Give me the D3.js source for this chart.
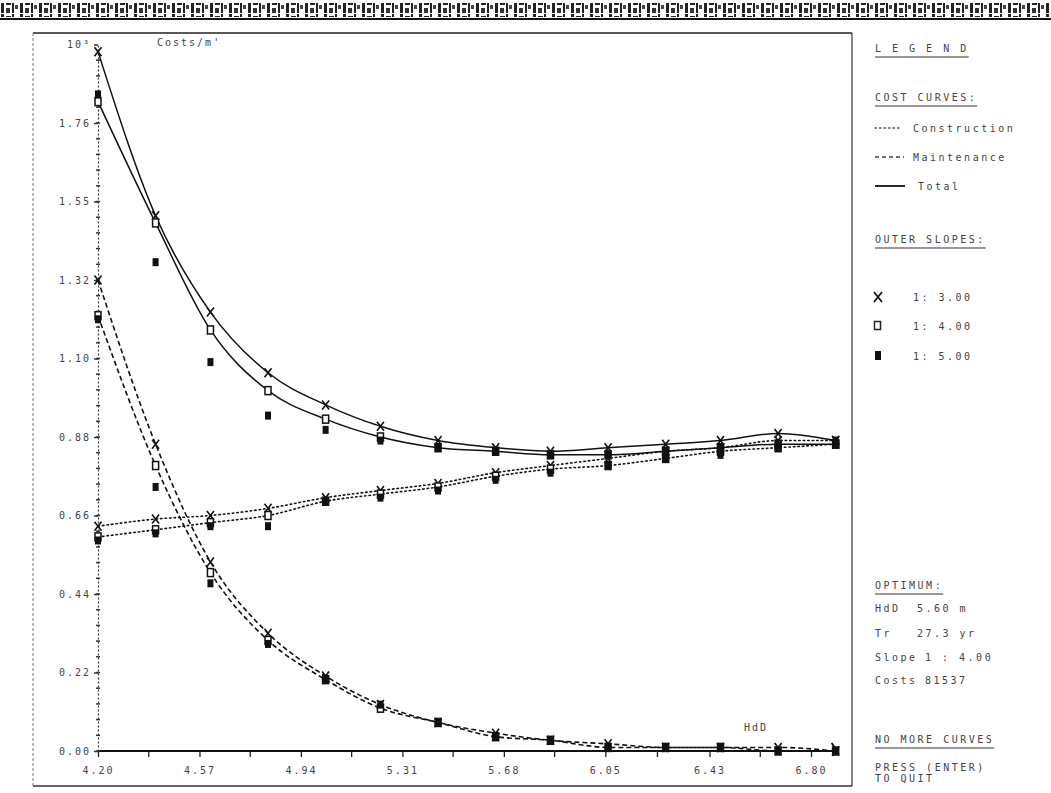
<!DOCTYPE html>
<html>
<head>
<meta charset="utf-8">
<script src="https://cdn.jsdelivr.net/npm/d3@7"></script>
<style>
  body { margin: 0; background: #fff; }
  text { font-family: "DejaVu Sans Mono", monospace; fill: #444; }
</style>
</head>
<body>
<div class="chart"></div>
<script>
// cost curves vs HdD, values in 10^3 per m
var hdd = [4.20, 4.41, 4.61, 4.82, 5.03, 5.23, 5.44, 5.65, 5.85, 6.06, 6.27, 6.47, 6.68, 6.89];

// slope 1:3 (X)
var total3 = [1.96, 1.50, 1.23, 1.06, 0.97, 0.91, 0.87, 0.85, 0.84, 0.85, 0.86, 0.87, 0.89, 0.87];
var maint3 = [1.32, 0.86, 0.53, 0.33, 0.21, 0.13, 0.08, 0.05, 0.03, 0.02, 0.01, 0.01, 0.01, 0.00];
var constr3 = [0.63, 0.65, 0.66, 0.68, 0.71, 0.73, 0.75, 0.78, 0.80, 0.82, 0.84, 0.85, 0.87, 0.87];
// slope 1:4 (open square)
var total4 = [1.82, 1.48, 1.18, 1.01, 0.93, 0.88, 0.85, 0.84, 0.83, 0.83, 0.84, 0.85, 0.86, 0.86];
var maint4 = [1.22, 0.80, 0.50, 0.31, 0.20, 0.12, 0.08, 0.04, 0.03, 0.01, 0.01, 0.01, 0.00, 0.00];
var constr4 = [0.60, 0.62, 0.64, 0.66, 0.70, 0.72, 0.74, 0.77, 0.79, 0.80, 0.82, 0.84, 0.85, 0.86];
// slope 1:5 (filled square) - markers only
var total5 = [1.84, 1.37, 1.09, 0.94, 0.90, 0.87, 0.85, 0.84, 0.83, 0.83, 0.84, 0.85, 0.86, 0.87];
var maint5 = [1.21, 0.74, 0.47, 0.30, 0.20, 0.13, 0.08, 0.04, 0.03, 0.01, 0.01, 0.01, 0.00, 0.00];
var constr5 = [0.59, 0.61, 0.63, 0.63, 0.70, 0.71, 0.73, 0.76, 0.78, 0.80, 0.82, 0.83, 0.85, 0.86];

var xTicks = [4.20, 4.57, 4.94, 5.31, 5.68, 6.05, 6.43, 6.80];
var xLabels = ["4.20", "4.57", "4.94", "5.31", "5.68", "6.05", "6.43", "6.80"];
var yTicks = [0, 0.22, 0.44, 0.66, 0.88, 1.10, 1.32, 1.54, 1.76, 1.98];
var yLabels = ["0.00", "0.22", "0.44", "0.66", "0.88", "1.10", "1.32", "1.55", "1.76", "10\u00b3"];

var svgWidth = 1051;
var svgHeight = 793;

var svg = d3.select(".chart")
  .append("svg")
  .attr("width", svgWidth)
  .attr("height", svgHeight);

// top banner (garbled print header)
var defs = svg.append("defs");
var pat = defs.append("pattern")
  .attr("id", "band")
  .attr("patternUnits", "userSpaceOnUse")
  .attr("width", 19)
  .attr("height", 14);
pat.append("rect").attr("x", 1).attr("y", 0).attr("width", 3).attr("height", 13).attr("fill", "#222");
pat.append("rect").attr("x", 6).attr("y", 2).attr("width", 5).attr("height", 3).attr("fill", "#222");
pat.append("rect").attr("x", 6).attr("y", 8).attr("width", 4).attr("height", 5).attr("fill", "#333");
pat.append("rect").attr("x", 12).attr("y", 0).attr("width", 2).attr("height", 13).attr("fill", "#222");
pat.append("rect").attr("x", 15).attr("y", 5).attr("width", 3).attr("height", 4).attr("fill", "#444");
svg.append("rect")
  .attr("x", 0).attr("y", 3)
  .attr("width", svgWidth).attr("height", 14)
  .attr("fill", "url(#band)");
svg.append("line")
  .attr("x1", 0).attr("x2", svgWidth)
  .attr("y1", 19).attr("y2", 19)
  .attr("stroke", "#111").attr("stroke-width", 2);

// frame of plotting area
svg.append("line").attr("x1", 33).attr("x2", 852).attr("y1", 33).attr("y2", 33)
  .attr("stroke", "#222").attr("stroke-width", 1.5);
svg.append("line").attr("x1", 33).attr("x2", 33).attr("y1", 33).attr("y2", 786)
  .attr("stroke", "#777").attr("stroke-width", 1).attr("stroke-dasharray", "3,2");
svg.append("line").attr("x1", 33).attr("x2", 852).attr("y1", 786).attr("y2", 786)
  .attr("stroke", "#333").attr("stroke-width", 1.5);
svg.append("line").attr("x1", 852).attr("x2", 852).attr("y1", 33).attr("y2", 786)
  .attr("stroke", "#333").attr("stroke-width", 1.2);

var x = d3.scaleLinear().domain([4.20, 6.80]).range([98, 811]);
var y = d3.scaleLinear().domain([0, 1.98]).range([751, 44.5]);

// x axis
var xAxis = d3.axisBottom(x)
  .tickValues(xTicks)
  .tickFormat(function(d, i) { return xLabels[i]; })
  .tickSize(6)
  .tickSizeOuter(0);
var gx = svg.append("g")
  .attr("transform", "translate(0,751)")
  .call(xAxis);
gx.select(".domain").remove();
gx.selectAll("line").attr("stroke", "#222").attr("stroke-width", 1.3);
gx.selectAll("text")
  .attr("dy", "1.4em")
  .attr("font-size", "10px")
  .attr("letter-spacing", "2px")
  .style("font-family", "DejaVu Sans Mono, monospace")
  .attr("fill", "#444");
svg.append("line")
  .attr("x1", x(4.20)).attr("x2", x(hdd[hdd.length - 1]))
  .attr("y1", 751).attr("y2", 751)
  .attr("stroke", "#111").attr("stroke-width", 2.2);
// minor x ticks halfway between labelled ones
var xMinor = xTicks.slice(1).map(function(d, i) { return (d + xTicks[i]) / 2; });
svg.selectAll(".xminor").data(xMinor).enter().append("line")
  .attr("x1", function(d) { return x(d); })
  .attr("x2", function(d) { return x(d); })
  .attr("y1", 751).attr("y2", 757)
  .attr("stroke", "#222").attr("stroke-width", 1.3);
// arrow at the end of the x axis
var xe = x(hdd[hdd.length - 1]);
svg.append("path")
  .attr("d", "M" + (xe - 4) + ",743 L" + xe + ",749 L" + (xe - 3) + ",756")
  .attr("fill", "none").attr("stroke", "#111").attr("stroke-width", 2);

// y axis
var yAxis = d3.axisLeft(y)
  .tickValues(yTicks)
  .tickFormat(function(d, i) { return yLabels[i]; })
  .tickSize(4)
  .tickSizeOuter(0);
var gy = svg.append("g")
  .attr("transform", "translate(98,0)")
  .call(yAxis);
gy.select(".domain")
  .attr("stroke", "#333").attr("stroke-width", 1.2).attr("stroke-dasharray", "2,2");
gy.selectAll("line").attr("stroke", "#333").attr("stroke-width", 1.5);
gy.selectAll("text")
  .attr("x", -7)
  .attr("font-size", "10px")
  .attr("letter-spacing", "2px")
  .style("font-family", "DejaVu Sans Mono, monospace")
  .attr("fill", "#444");
var yMinor = d3.range(0, 45).map(function(i) { return i * 0.044; });
svg.selectAll(".yminor").data(yMinor).enter().append("line")
  .attr("x1", 96).attr("x2", 100)
  .attr("y1", function(d) { return y(d); })
  .attr("y2", function(d) { return y(d); })
  .attr("stroke", "#333").attr("stroke-width", 1.5);

svg.append("text").attr("x", 157).attr("y", 46)
  .attr("font-size", "10px").attr("letter-spacing", "2px")
  .text("Costs/m'");
svg.append("text").attr("x", 744).attr("y", 731)
  .attr("font-size", "10px").attr("letter-spacing", "2px")
  .text("HdD");

// curves
var line = d3.line()
  .x(function(d) { return x(d[0]); })
  .y(function(d) { return y(d[1]); })
  .curve(d3.curveMonotoneX);

function pairs(vals) {
  return vals.map(function(v, i) { return [hdd[i], v]; });
}

var curves = [
  { vals: total3, dash: null, w: 1.5 },
  { vals: total4, dash: null, w: 1.5 },
  { vals: maint3, dash: "5,3", w: 1.6 },
  { vals: maint4, dash: "5,3", w: 1.6 },
  { vals: constr3, dash: "1.5,3", w: 1.6 },
  { vals: constr4, dash: "1.5,3", w: 1.6 }
];
curves.forEach(function(c) {
  svg.append("path")
    .attr("d", line(pairs(c.vals)))
    .attr("fill", "none")
    .attr("stroke", "#111")
    .attr("stroke-width", c.w)
    .attr("stroke-dasharray", c.dash)
    .attr("stroke-linecap", c.dash === "1.5,3" ? "round" : "butt");
});

// markers
function drawX(vals) {
  svg.selectAll(null).data(pairs(vals)).enter().append("path")
    .attr("d", function(d) {
      var cx = x(d[0]), cy = y(d[1]);
      return "M" + (cx - 3.5) + "," + (cy - 4.5) + "L" + (cx + 3.5) + "," + (cy + 4.5) +
        "M" + (cx + 3.5) + "," + (cy - 4.5) + "L" + (cx - 3.5) + "," + (cy + 4.5);
    })
    .attr("stroke", "#111").attr("stroke-width", 1.6).attr("fill", "none");
}
function drawOpen(vals) {
  svg.selectAll(null).data(pairs(vals)).enter().append("rect")
    .attr("x", function(d) { return x(d[0]) - 3; })
    .attr("y", function(d) { return y(d[1]) - 4; })
    .attr("width", 6).attr("height", 8)
    .attr("fill", "#fff").attr("stroke", "#111").attr("stroke-width", 1.5);
}
function drawFilled(vals) {
  svg.selectAll(null).data(pairs(vals)).enter().append("rect")
    .attr("x", function(d) { return x(d[0]) - 3; })
    .attr("y", function(d) { return y(d[1]) - 4; })
    .attr("width", 6).attr("height", 8)
    .attr("fill", "#111");
}
[total3, maint3, constr3].forEach(drawX);
[total4, maint4, constr4].forEach(drawOpen);
[total5, maint5, constr5].forEach(drawFilled);

// legend panel
var lx = 875;
function label(txt, ty, tx, under) {
  var t = svg.append("text").attr("x", tx || lx).attr("y", ty)
    .attr("font-size", "10px").attr("letter-spacing", "2.5px")
    .text(txt);
  if (under) {
    var w = t.node().getComputedTextLength();
    svg.append("line").attr("x1", tx || lx).attr("x2", (tx || lx) + w)
      .attr("y1", ty + 5).attr("y2", ty + 5)
      .attr("stroke", "#333").attr("stroke-width", 1.2);
  }
  return t;
}
label("L E G E N D", 52, lx, true);
label("COST CURVES:", 101, lx, true);
svg.append("line").attr("x1", lx).attr("x2", 902).attr("y1", 128).attr("y2", 128)
  .attr("stroke", "#555").attr("stroke-width", 1.5).attr("stroke-dasharray", "1.5,3")
  .attr("stroke-linecap", "round");
label("Construction", 132, 913);
svg.append("line").attr("x1", lx).attr("x2", 904).attr("y1", 157).attr("y2", 157)
  .attr("stroke", "#444").attr("stroke-width", 1.5).attr("stroke-dasharray", "4,3");
label("Maintenance", 161, 913);
svg.append("line").attr("x1", lx).attr("x2", 905).attr("y1", 186).attr("y2", 186)
  .attr("stroke", "#111").attr("stroke-width", 1.8);
label("Total", 190, 918);
label("OUTER SLOPES:", 243, lx, true);

var slopeNames = ["1: 3.00", "1: 4.00", "1: 5.00"];
var slopeY = [301, 330, 360];
svg.append("path")
  .attr("d", "M874," + (slopeY[0] - 9) + "L882," + (slopeY[0] + 1) + "M882," + (slopeY[0] - 9) + "L874," + (slopeY[0] + 1))
  .attr("stroke", "#111").attr("stroke-width", 1.8);
svg.append("rect").attr("x", 874.5).attr("y", slopeY[1] - 8.5).attr("width", 6).attr("height", 8)
  .attr("fill", "#fff").attr("stroke", "#222").attr("stroke-width", 1.5);
svg.append("rect").attr("x", 875).attr("y", slopeY[2] - 9).attr("width", 6).attr("height", 9)
  .attr("fill", "#111");
slopeNames.forEach(function(s, i) { label(s, slopeY[i], 913); });

label("OPTIMUM:", 589, lx, true);
var optNames = ["HdD", "Tr", "Slope", "Costs"];
var optVals = ["5.60 m", "27.3 yr", "1 : 4.00", "81537"];
var optY = [612, 637, 661, 684];
optNames.forEach(function(s, i) {
  label(s, optY[i], lx);
  label(optVals[i], optY[i], i < 2 ? 917 : 925);
});
label("NO MORE CURVES", 743, lx, true);
label("PRESS (ENTER)", 771, lx);
label("TO QUIT", 782, lx);
</script>
</body>
</html>
